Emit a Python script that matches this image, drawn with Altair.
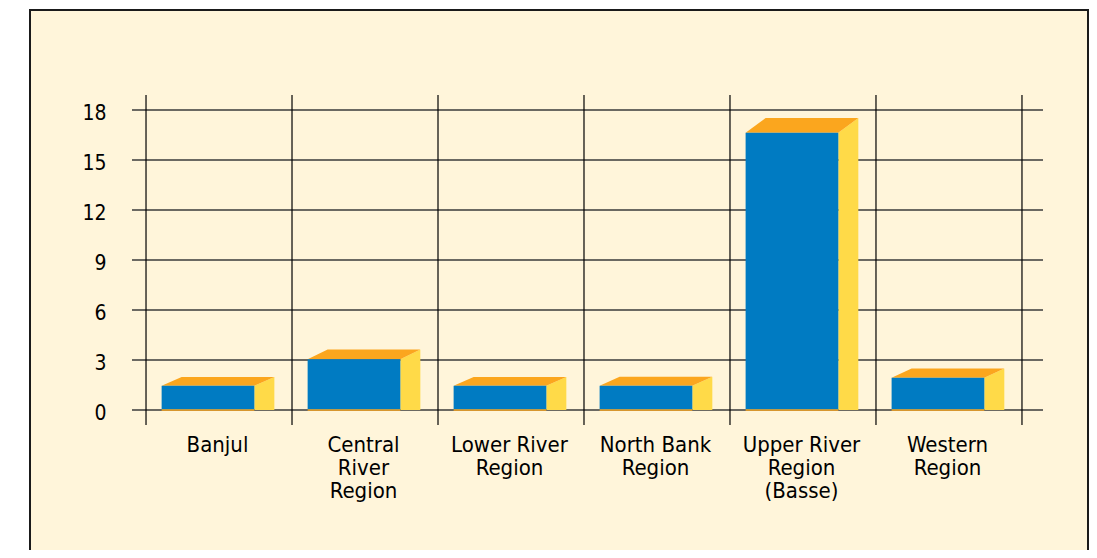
import json
import altair as alt
import pandas as pd

# ---- data ----
categories = ["Banjul", "Central\nRiver\nRegion", "Lower River\nRegion",
              "North Bank\nRegion", "Upper River\nRegion\n(Basse)", "Western\nRegion"]
values = [1.45, 3.05, 1.45, 1.46, 16.64, 1.94]
y_ticks = [0, 3, 6, 9, 12, 15, 18]
x_bounds = [0, 1, 2, 3, 4, 5, 6]

# ---- styling / geometry constants ----
BLUE = "#007BC2"
ORANGE = "#FBA61E"
YELLOW = "#FFDA48"
CREAM = "#FFF5DA"
FONT = "DejaVu Sans Condensed"
W, H = 911, 330
X_DOM = [-0.096, 6.144]
Y_DOM = [-0.9, 18.9]
PX_PER_UNIT = H / (Y_DOM[1] - Y_DOM[0])
FRONT_L, FRONT_R, DEPTH_X = 0.107, 0.742, 0.137

def depth_y(v):
    return (8.4 + 0.375 * v) / PX_PER_UNIT

front_rows, top_rows, side_rows = [], [], []
for i, v in enumerate(values):
    L, R = i + FRONT_L, i + FRONT_R
    d = DEPTH_X
    dy = depth_y(v)
    front_rows.append({"bar": i, "L": L, "R": R, "y0": 0.0, "v": v})
    for x, y, y2 in [(L, v, v), (L + d, v, v + dy), (R, v, v + dy), (R + d, v + dy, v + dy)]:
        top_rows.append({"bar": i, "x": x, "y": y, "y2": y2})
    for x, y, y2 in [(R, 0.0, v), (R + d, 0.0, v + dy)]:
        side_rows.append({"bar": i, "x": x, "y": y, "y2": y2})

front_df = pd.DataFrame(front_rows)
top_df = pd.DataFrame(top_rows)
side_df = pd.DataFrame(side_rows)
hgrid_df = pd.DataFrame({"t": y_ticks})
vgrid_df = pd.DataFrame({"b": x_bounds})

label_expr = "split(" + json.dumps(categories) + "[floor(datum.value)], '\\n')"

xscale = alt.Scale(domain=X_DOM, nice=False, zero=False)
yscale = alt.Scale(domain=Y_DOM, nice=False, zero=False)
xaxis = alt.Axis(values=[i + 0.5 for i in range(len(categories))], labelExpr=label_expr,
                 grid=False, domain=False, ticks=False, tickSize=0, title=None,
                 labelFont=FONT, labelFontSize=22, labelColor="#000000",
                 labelPadding=9, labelLineHeight=23, labelOffset=-2, labelOverlap=False,
                 labelBound=False, labelFlush=False, zindex=2)
yaxis = alt.Axis(values=y_ticks, grid=False, domain=False, ticks=False, tickSize=0,
                 title=None, labelFont=FONT, labelFontSize=21, labelColor="#000000",
                 labelPadding=26, labelOffset=3, labelOverlap=False, labelBound=False,
                 labelFlush=False, zindex=2)

border = alt.Chart(pd.DataFrame({"a": [0]})).mark_rect(
    fill=CREAM, stroke="#1a1a1a", strokeWidth=2
).encode(x=alt.value(-102), x2=alt.value(956), y=alt.value(-85), y2=alt.value(480))

hgrid = alt.Chart(hgrid_df).mark_rule(color="#3a3a3a", strokeWidth=1.3).encode(
    y=alt.Y("t:Q", scale=yscale, axis=yaxis)
)
vgrid = alt.Chart(vgrid_df).mark_rule(color="#000000", strokeWidth=1.2).encode(
    x=alt.X("b:Q", scale=xscale, axis=xaxis)
)

front = alt.Chart(front_df).mark_rect(color=BLUE).encode(
    x=alt.X("L:Q", scale=xscale, axis=xaxis), x2="R:Q",
    y=alt.Y("y0:Q", scale=yscale, axis=yaxis), y2="v:Q",
)
bottom_edge = alt.Chart(front_df).mark_rule(color=ORANGE, strokeWidth=1.5).encode(
    x=alt.X("L:Q", scale=xscale, axis=xaxis), x2="R:Q",
    y=alt.Y("y0:Q", scale=yscale, axis=yaxis),
)
top = alt.Chart(top_df).mark_area(color=ORANGE, interpolate="linear").encode(
    x=alt.X("x:Q", scale=xscale, axis=xaxis),
    y=alt.Y("y:Q", scale=yscale, axis=yaxis), y2="y2:Q",
    detail="bar:N",
)
side = alt.Chart(side_df).mark_area(color=YELLOW, interpolate="linear").encode(
    x=alt.X("x:Q", scale=xscale, axis=xaxis),
    y=alt.Y("y:Q", scale=yscale, axis=yaxis), y2="y2:Q",
    detail="bar:N",
)

chart = alt.layer(border, hgrid, vgrid, side, top, front, bottom_edge).properties(
    width=W, height=H,
    padding={"left": 124, "top": 87, "right": 46, "bottom": 125},
    autosize=alt.AutoSizeParams(type="none"),
    background="white",
).configure_view(strokeWidth=0)

chart.save("out.html", embed_options={"renderer": "svg", "actions": False})
